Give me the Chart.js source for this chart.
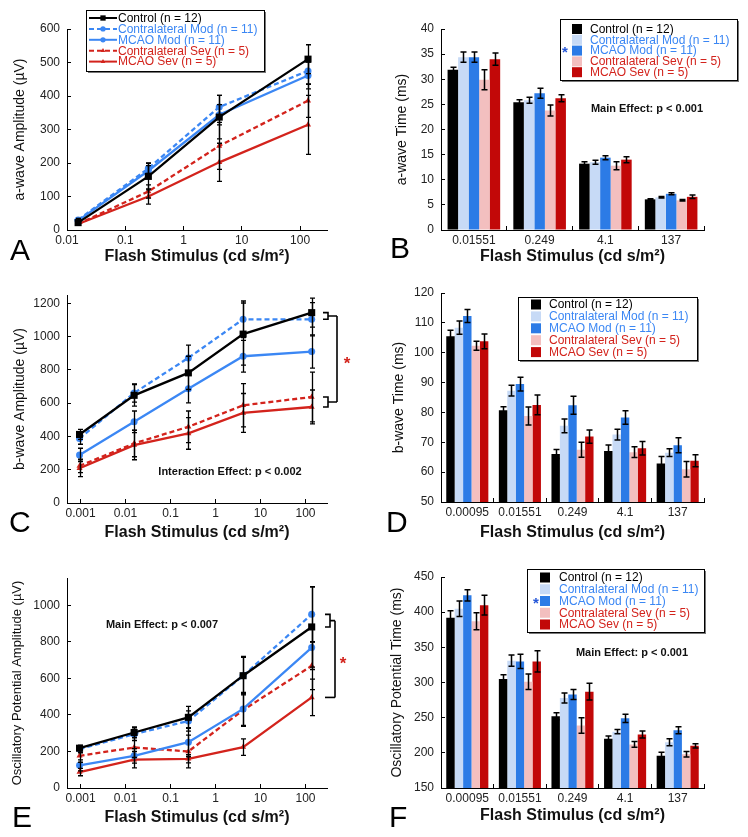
<!DOCTYPE html>
<html>
<head>
<meta charset="utf-8">
<script src="https://cdn.jsdelivr.net/npm/chart.js@4.4.0/dist/chart.umd.min.js"></script>
<style>
  body { margin: 0; background: #fff; }
  #wrap { position: relative; width: 748px; height: 837px; }
  .panel { position: absolute; width: 374px; }
</style>
</head>
<body>
<div id="wrap">
  <div class="panel" style="left:0;top:0;height:272px"><canvas id="chartA"></canvas></div>
  <div class="panel" style="left:374px;top:0;height:272px"><canvas id="chartB"></canvas></div>
  <div class="panel" style="left:0;top:272px;height:272px"><canvas id="chartC"></canvas></div>
  <div class="panel" style="left:374px;top:272px;height:272px"><canvas id="chartD"></canvas></div>
  <div class="panel" style="left:0;top:544px;height:293px"><canvas id="chartE"></canvas></div>
  <div class="panel" style="left:374px;top:544px;height:293px"><canvas id="chartF"></canvas></div>
</div>
<script>
// Groups (same order in every panel)
const groupNames = ['Control (n = 12)', 'Contralateral Mod (n = 11)', 'MCAO Mod (n = 11)',
                    'Contralateral Sev (n = 5)', 'MCAO Sev (n = 5)'];

// Flash stimulus intensities (cd s/m²)
const stim4 = [0.01551, 0.249, 4.1, 137];
const stim5 = [0.00095, 0.01551, 0.249, 4.1, 137];
const stimCats4 = ['0.01551', '0.249', '4.1', '137'];
const stimCats5 = ['0.00095', '0.01551', '0.249', '4.1', '137'];

// A: a-wave amplitude (µV), one row per group
const aAmpMean = [
    [22, 160, 337, 510],
    [30, 184, 367, 475],
    [28, 177, 344, 461],
    [18, 115, 251, 386],
    [18, 100, 202, 314]
];
const aAmpErr = [
    [5, 40, 65, 43],
    [5, 15, 35, 40],
    [5, 15, 30, 40],
    [4, 20, 70, 50],
    [4, 23, 57, 88]
];

// B: a-wave time (ms)
const aTimeMean = [
    [31.9, 25.4, 13.2, 6.1],
    [34.4, 25.8, 13.5, 6.5],
    [34.4, 27.2, 14.4, 7.2],
    [29.9, 23.8, 12.8, 5.9],
    [34.0, 26.2, 14.0, 6.6]
];
const aTimeErr = [
    [0.5, 0.5, 0.4, 0.1],
    [1.0, 0.6, 0.4, 0.15],
    [1.0, 1.0, 0.4, 0.2],
    [2.0, 1.1, 0.8, 0.15],
    [1.2, 0.7, 0.6, 0.35]
];

// C: b-wave amplitude (µV)
const bAmpMean = [
    [412, 647, 782, 1015, 1144],
    [388, 661, 872, 1104, 1104],
    [289, 488, 687, 882, 910],
    [223, 358, 458, 587, 637],
    [209, 348, 418, 541, 577]
];
const bAmpErr = [
    [30, 65, 100, 187, 87],
    [35, 55, 77, 110, 100],
    [40, 65, 85, 95, 100],
    [40, 80, 95, 130, 150],
    [50, 88, 95, 117, 102]
];

// D: b-wave time (ms)
const bTimeMean = [
    [105.5, 80.7, 66.1, 67.1, 62.9],
    [108.4, 87.3, 75.5, 72.6, 66.5],
    [112.3, 89.5, 82.4, 78.3, 69.0],
    [102.3, 78.8, 67.5, 66.7, 61.0],
    [103.8, 82.5, 71.9, 68.0, 63.8]
];
const bTimeErr = [
    [2.0, 1.2, 1.5, 2.0, 2.3],
    [2.2, 1.8, 2.3, 1.8, 1.3],
    [2.2, 2.3, 3.0, 2.3, 2.5],
    [1.5, 3.0, 2.5, 1.8, 2.6],
    [2.5, 3.3, 2.2, 2.3, 2.0]
];

// E: oscillatory potential amplitude (µV)
const opAmpMean = [
    [218, 304, 387, 615, 882],
    [213, 295, 367, 615, 951],
    [124, 176, 251, 433, 769],
    [176, 222, 200, 427, 669],
    [87, 155, 160, 224, 496]
];
const opAmpErr = [
    [15, 30, 60, 105, 220],
    [20, 35, 55, 100, 150],
    [30, 40, 80, 90, 120],
    [35, 55, 90, 90, 130],
    [20, 45, 22, 45, 100]
];

// F: oscillatory potential time (ms)
const opTimeMean = [
    [392, 305, 252, 220, 196],
    [405, 331, 278, 230, 215],
    [424, 330, 283, 249, 232],
    [387, 301, 239, 212, 198],
    [410, 330, 287, 226, 210]
];
const opTimeErr = [
    [10, 6, 5, 4, 5],
    [11, 8, 7, 3, 5],
    [8, 10, 7, 6, 5],
    [12, 11, 11, 4, 4],
    [14, 15, 12, 5, 3]
];

const FONT = '"Liberation Sans", Arial, Helvetica, sans-serif';
const BLUE = '#3b87f4';
const RED = '#d3231c';
const TEXT_COLORS = ['#000', BLUE, BLUE, RED, RED];
const BAR_COLORS = ['#000000', '#c7daf6', '#2c7be6', '#f3bfbf', '#c20808'];
const LINE_STYLES = [
    { borderColor: '#000', pointStyle: 'rect', pointRadius: 5, borderDash: [] },
    { borderColor: BLUE, pointStyle: 'circle', pointRadius: 3.5, borderDash: [5, 3] },
    { borderColor: BLUE, pointStyle: 'circle', pointRadius: 3.5, borderDash: [] },
    { borderColor: RED, pointStyle: 'triangle', pointRadius: 3.5, borderDash: [5, 3] },
    { borderColor: RED, pointStyle: 'triangle', pointRadius: 3.5, borderDash: [] }
];

Chart.defaults.font.family = FONT;
Chart.defaults.color = '#222';

function isPow10(v) {
    const l = Math.log10(v);
    return Math.abs(l - Math.round(l)) < 1e-6;
}

// vertical error bars (mean ± err) for every dataset that has "errors"
const errorBarPlugin = {
    id: 'errorBars',
    afterDatasetsDraw(chart, args, opts) {
        const { ctx } = chart;
        const yScale = chart.scales.y;
        const cap = opts.cap || 3;
        ctx.save();
        ctx.strokeStyle = '#000';
        ctx.lineWidth = opts.lineWidth || 1.3;
        chart.data.datasets.forEach((ds, i) => {
            if (!ds.errors) return;
            chart.getDatasetMeta(i).data.forEach((el, j) => {
                const d = ds.data[j];
                const v = typeof d === 'object' ? d.y : d;
                const e = ds.errors[j];
                const x = Math.round(el.x) + 0.5;
                const yTop = yScale.getPixelForValue(v + e);
                const yBot = yScale.getPixelForValue(v - e);
                ctx.beginPath();
                ctx.moveTo(x, yTop); ctx.lineTo(x, yBot);
                ctx.moveTo(x - cap, yTop); ctx.lineTo(x + cap, yTop);
                ctx.moveTo(x - cap, yBot); ctx.lineTo(x + cap, yBot);
                ctx.stroke();
            });
        });
        ctx.restore();
    }
};

// boxed legend with a drop shadow, drawn over the plot
const legendBoxPlugin = {
    id: 'legendBox',
    afterDraw(chart, args, o) {
        if (!o.box) return;
        const { ctx } = chart;
        const [bx, by, bw, bh] = o.box;
        ctx.save();
        ctx.fillStyle = '#777';
        ctx.fillRect(bx + 2, by + 2, bw, bh);
        ctx.fillStyle = '#fff';
        ctx.fillRect(bx, by, bw, bh);
        ctx.strokeStyle = '#000';
        ctx.lineWidth = 1;
        ctx.strokeRect(bx + 0.5, by + 0.5, bw, bh);
        ctx.font = '12px ' + FONT;
        ctx.textBaseline = 'middle';
        chart.data.datasets.forEach((ds, i) => {
            const cy = o.rowY + i * o.rowH;
            if (o.kind === 'bar') {
                ctx.fillStyle = ds.backgroundColor;
                ctx.fillRect(o.swatchX, cy - 5, 10, 10);
            } else {
                ctx.strokeStyle = ds.borderColor;
                ctx.lineWidth = 2;
                ctx.setLineDash(ds.borderDash);
                ctx.beginPath();
                ctx.moveTo(o.swatchX, cy);
                ctx.lineTo(o.swatchX + o.swatchW, cy);
                ctx.stroke();
                ctx.setLineDash([]);
                ctx.fillStyle = ds.borderColor;
                Chart.helpers.drawPoint(ctx, { pointStyle: ds.pointStyle, radius: ds.pointRadius * 0.75, rotation: 0, borderWidth: 0 },
                    o.swatchX + o.swatchW / 2, cy);
            }
            ctx.fillStyle = TEXT_COLORS[i];
            ctx.fillText(ds.label, o.textX, cy + 0.5);
        });
        if (o.star) {
            ctx.fillStyle = '#2456d8';
            ctx.font = 'bold 15px ' + FONT;
            ctx.textAlign = 'center';
            ctx.fillText('*', o.star[0], o.star[1] + 3);
        }
        ctx.restore();
    }
};

// significance bracket at the right end of a line plot
const bracketPlugin = {
    id: 'sigBracket',
    afterDraw(chart, args, o) {
        if (!o.upper) return;
        const { ctx, chartArea } = chart;
        const y = chart.scales.y;
        const lastPx = i => {
            const d = chart.data.datasets[i].data;
            return y.getPixelForValue(d[d.length - 1].y);
        };
        const x1 = chartArea.right + o.x1, x2 = chartArea.right + o.x2, x3 = chartArea.right + o.x3;
        ctx.save();
        ctx.strokeStyle = '#000';
        ctx.lineWidth = 1.6;
        const part = idx => {
            const px = idx.map(lastPx);
            const top = Math.min(...px), bot = Math.max(...px), mid = (top + bot) / 2;
            ctx.beginPath();
            if (idx.length > 1) {
                ctx.moveTo(x1, top); ctx.lineTo(x2, top); ctx.lineTo(x2, bot); ctx.lineTo(x1, bot);
                ctx.moveTo(x2, mid);
            } else {
                ctx.moveTo(x1, mid);
            }
            ctx.lineTo(x3, mid);
            ctx.stroke();
            return mid;
        };
        const m1 = part(o.upper);
        const m2 = part(o.lower);
        ctx.beginPath();
        ctx.moveTo(x3, m1); ctx.lineTo(x3, m2);
        ctx.stroke();
        ctx.fillStyle = RED;
        ctx.font = 'bold 17px ' + FONT;
        ctx.textAlign = 'center';
        ctx.textBaseline = 'middle';
        ctx.fillText('*', chartArea.right + o.starX, (m1 + m2) / 2 + 5);
        ctx.restore();
    }
};

// statistics note and panel letter
const decorPlugin = {
    id: 'decor',
    afterDraw(chart, args, o) {
        const { ctx } = chart;
        ctx.save();
        if (o.note) {
            ctx.fillStyle = '#111';
            ctx.font = 'bold 11px ' + FONT;
            ctx.textAlign = 'center';
            ctx.textBaseline = 'middle';
            ctx.fillText(o.note, o.noteX, o.noteY);
        }
        if (o.letter) {
            ctx.fillStyle = '#000';
            ctx.font = '30px ' + FONT;
            ctx.textAlign = 'left';
            ctx.textBaseline = 'alphabetic';
            ctx.fillText(o.letter, o.letterX, o.letterY);
        }
        ctx.restore();
    }
};

function yAxis(geo, min, max, step, title) {
    return {
        min, max,
        ticks: {
            stepSize: step, includeBounds: false, padding: 11, font: { size: 12 }, color: '#222',
            callback: v => Math.abs(v / step - Math.round(v / step)) < 1e-6 ? v : ''
        },
        grid: { drawOnChartArea: false, tickLength: -4, color: '#000' },
        border: { color: '#000', width: 1 },
        title: { display: true, text: title, color: '#111', font: { size: geo.yTitleSize || 14 }, padding: { top: geo.yTitlePad, bottom: 0 } },
        afterFit: s => { s.width = 67; }
    };
}

function xTitle(geo) {
    return { display: true, text: 'Flash Stimulus (cd s/m²)', color: '#111', font: { size: 16, weight: 'bold' }, padding: { top: 0, bottom: geo.xTitlePad } };
}

function baseOptions(geo, scales, plugins) {
    return {
        responsive: true,
        maintainAspectRatio: false,
        animation: false,
        layout: { padding: { top: geo.top, right: 374 - geo.right, left: 0, bottom: 0 } },
        scales,
        plugins: Object.assign({ legend: { display: false }, tooltip: { enabled: false } }, plugins)
    };
}

function createLinePanel(id, geo, xs, means, errs, xRange, yRange, yTitle, plugins) {
    const datasets = means.map((row, g) => Object.assign({
        label: groupNames[g],
        data: xs.map((x, i) => ({ x, y: row[i] })),
        errors: errs[g],
        backgroundColor: LINE_STYLES[g].borderColor,
        pointBackgroundColor: LINE_STYLES[g].borderColor,
        pointBorderWidth: 0,
        borderWidth: 2.3,
        tension: 0
    }, LINE_STYLES[g]));
    const scales = {
        x: {
            type: 'logarithmic', min: xRange[0], max: xRange[1],
            ticks: {
                autoSkip: false, maxRotation: 0, padding: 7, font: { size: 12 }, color: '#222',
                callback: v => isPow10(v) ? String(Number(Number(v).toPrecision(1))) : ''
            },
            grid: { drawOnChartArea: false, tickLength: -4, color: c => (c.tick && isPow10(c.tick.value)) ? '#000' : 'rgba(0,0,0,0)' },
            border: { color: '#000', width: 1 },
            title: xTitle(geo),
            afterFit: s => { s.height = geo.height - geo.bottom; }
        },
        y: yAxis(geo, yRange[0], yRange[1], yRange[2], yTitle)
    };
    return new Chart(document.getElementById(id), {
        type: 'line',
        data: { datasets },
        options: baseOptions(geo, scales, Object.assign({ errorBars: { cap: 2.5, lineWidth: 1.3 } }, plugins)),
        plugins: [errorBarPlugin, legendBoxPlugin, bracketPlugin, decorPlugin]
    });
}

function createBarPanel(id, geo, cats, means, errs, yRange, yTitle, plugins) {
    const datasets = means.map((row, g) => ({
        label: groupNames[g],
        data: row,
        errors: errs[g],
        backgroundColor: BAR_COLORS[g],
        borderWidth: 0,
        categoryPercentage: 0.8,
        barPercentage: 1.0
    }));
    const scales = {
        x: {
            type: 'category',
            ticks: { padding: 7, font: { size: 12 }, color: '#222', maxRotation: 0 },
            grid: { drawOnChartArea: false, tickLength: -4, color: '#000', offset: true },
            border: { color: '#000', width: 1 },
            title: xTitle(geo),
            afterFit: s => { s.height = geo.height - geo.bottom; }
        },
        y: yAxis(geo, yRange[0], yRange[1], yRange[2], yTitle)
    };
    return new Chart(document.getElementById(id), {
        type: 'bar',
        data: { labels: cats, datasets },
        options: baseOptions(geo, scales, Object.assign({ errorBars: { cap: 3, lineWidth: 1.5 } }, plugins)),
        plugins: [errorBarPlugin, legendBoxPlugin, decorPlugin]
    });
}

// A
createLinePanel('chartA',
    { top: 29, bottom: 230, right: 327, height: 272, yTitlePad: 12, xTitlePad: 6 },
    stim4, aAmpMean, aAmpErr, [0.01, 290], [0, 600, 100], 'a-wave Amplitude (µV)',
    {
        legendBox: { box: [86, 10, 178, 61], kind: 'line', rowY: 18, rowH: 10.9, swatchX: 89, swatchW: 28, textX: 118 },
        decor: { letter: 'A', letterX: 10, letterY: 260 }
    });

// B
createBarPanel('chartB',
    { top: 29, bottom: 230, right: 330, height: 272, yTitlePad: 20, xTitlePad: 6 },
    stimCats4, aTimeMean, aTimeErr, [0, 40, 5], 'a-wave Time (ms)',
    {
        legendBox: { box: [186, 19, 177, 61], kind: 'bar', rowY: 29, rowH: 10.8, swatchX: 198, textX: 216, star: [191, 50] },
        decor: { note: 'Main Effect: p < 0.001', noteX: 273, noteY: 109, letter: 'B', letterX: 16, letterY: 258 }
    });

// C
createLinePanel('chartC',
    { top: 23, bottom: 231, right: 327, height: 272, yTitlePad: 12, xTitlePad: 2 },
    stim5, bAmpMean, bAmpErr, [0.0005, 300], [0, 1250, 200], 'b-wave Amplitude (µV)',
    {
        sigBracket: { upper: [0, 1], lower: [3, 4], x1: -4, x2: 1, x3: 10, starX: 20 },
        decor: { note: 'Interaction Effect: p < 0.002', noteX: 230, noteY: 200, letter: 'C', letterX: 9, letterY: 260 }
    });

// D
createBarPanel('chartD',
    { top: 21, bottom: 230, right: 330, height: 272, yTitlePad: 17, xTitlePad: 2 },
    stimCats5, bTimeMean, bTimeErr, [50, 120, 10], 'b-wave Time (ms)',
    {
        legendBox: { box: [144, 25, 179, 63], kind: 'bar', rowY: 32.5, rowH: 11.9, swatchX: 157, textX: 175 },
        decor: { letter: 'D', letterX: 12, letterY: 260 }
    });

// E
createLinePanel('chartE',
    { top: 34, bottom: 244, right: 327, height: 293, yTitlePad: 10, xTitlePad: 10, yTitleSize: 13 },
    stim5, opAmpMean, opAmpErr, [0.0005, 300], [0, 1150, 200], 'Oscillatory Potential Amplitude (µV)',
    {
        sigBracket: { upper: [0, 1], lower: [4], x1: -2, x2: 3, x3: 8, starX: 16 },
        decor: { note: 'Main Effect: p < 0.007', noteX: 162, noteY: 81, letter: 'E', letterX: 12, letterY: 283 }
    });

// F
createBarPanel('chartF',
    { top: 33, bottom: 244, right: 330, height: 293, yTitlePad: 15, xTitlePad: 12 },
    stimCats5, opTimeMean, opTimeErr, [150, 450, 50], 'Oscillatory Potential Time (ms)',
    {
        legendBox: { box: [153, 25, 177, 63], kind: 'bar', rowY: 33.5, rowH: 11.75, swatchX: 166, textX: 185, star: [162, 57] },
        decor: { note: 'Main Effect: p < 0.001', noteX: 258, noteY: 109, letter: 'F', letterX: 15, letterY: 283 }
    });
</script>
</body>
</html>
